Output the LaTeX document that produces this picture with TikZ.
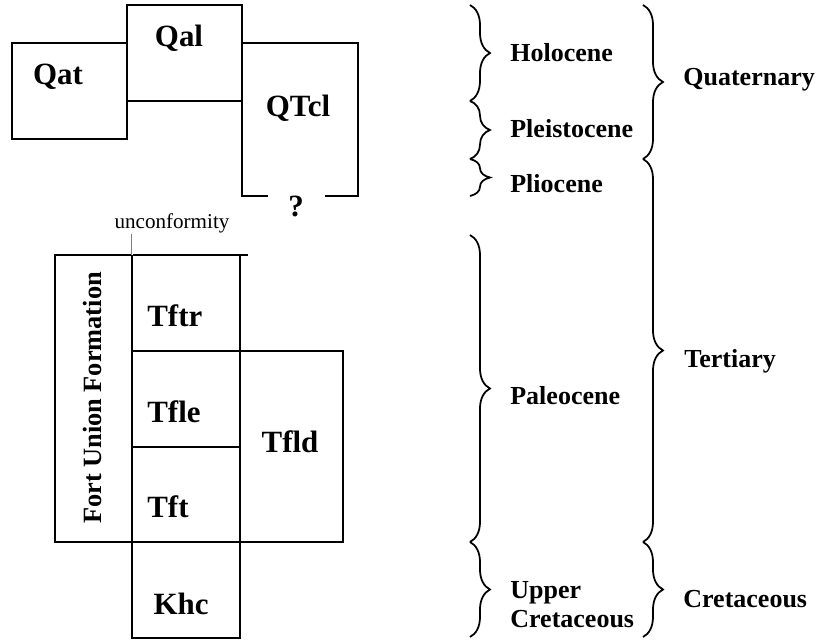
\documentclass[tikz,border=0pt]{standalone}
\usepackage{fontspec}
\setmainfont{Liberation Serif}
\usepackage{tikz}
\usetikzlibrary{decorations.pathreplacing}
\usetikzlibrary{positioning}
\tikzset{unit/.style = {font=\fontsize{17.6}{20}\selectfont\bfseries, inner sep=0pt},
         age/.style = {font=\fontsize{14.8}{17}\selectfont\bfseries, inner sep=0pt,
                       anchor=base west, align=left},
         bracket/.style = {decorate, decoration={brace, amplitude=0.4cm}, line width=1pt},
         box/.style = {line width=1.1pt}}

\begin{document}
\begin{tikzpicture}
    \useasboundingbox (0, 0) rectangle (16.44, 12.84);
    \draw [box] (0.24, 10.06) rectangle (2.54, 11.98);
    \draw [box] (2.54, 10.82) rectangle (4.84, 12.74);
    \draw [box] (6.5, 8.92) -- (7.16, 8.92) -- (7.16, 11.98) -- (4.84, 11.98) -- (4.84, 8.92) -- (5.36, 8.92);
    \node [unit, anchor=base] (qat) at (1.16, 11.14) {Qat};
    \node [unit, anchor=base] (qal) at (3.58, 11.9) {Qal};
    \node [unit, anchor=base] (qtcl) at (5.96, 10.5) {QTcl};
    \node [unit, anchor=base] (query) at (5.92, 8.5) {?};

    \draw [box] (1.1, 7.74) -- (4.96, 7.74);
    \draw [box] (1.1, 2.0) rectangle (2.64, 7.74);
    \draw [box] (2.64, 2.0) rectangle (4.8, 7.74);
    \draw [box] (2.64, 5.82) -- (4.8, 5.82);
    \draw [box] (2.64, 3.9) -- (4.8, 3.9);
    \draw [box] (4.8, 2.0) rectangle (6.86, 5.82);
    \draw [box] (2.64, 0.08) rectangle (4.8, 2.0);
    \node [unit, anchor=base west] (tftr) at (2.94, 6.3) {Tftr};
    \node [unit, anchor=base west] (tfle) at (2.94, 4.38) {Tfle};
    \node [unit, anchor=base west] (tft) at (2.94, 2.48) {Tft};
    \node [unit, anchor=base] (tfld) at (5.8, 3.78) {Tfld};
    \node [unit, anchor=base] (khc) at (3.62, 0.54) {Khc};
    \node [font=\fontsize{15}{18}\selectfont\bfseries, inner sep=0pt, rotate=90, anchor=base]
        (fort) at (2.04, 4.88) {Fort Union Formation};

    \node [font=\fontsize{12}{14}\selectfont, inner sep=0pt, anchor=base] (uncf) at (3.44, 8.26) {unconformity};
    \coordinate (gap) at (2.64, 7.74);
    \draw [double=white, draw=gray, line width=0.5pt, double distance=0.5pt] (uncf.south -| gap) -- (gap);

    \draw [bracket] (9.4, 12.74) -- (9.4, 10.82);
    \draw [bracket] (9.4, 10.82) -- (9.4, 9.66);
    \draw [bracket] (9.4, 9.66) -- (9.4, 8.92);
    \draw [bracket] (9.4, 8.14) -- (9.4, 2.0);
    \draw [bracket] (9.4, 2.0) -- (9.4, 0.1);
    \draw [bracket] (12.86, 12.74) -- (12.86, 9.66);
    \draw [bracket] (12.86, 9.66) -- (12.86, 2.0);
    \draw [bracket] (12.86, 2.0) -- (12.86, 0.1);

    \node [age] (holo) at (10.2, 11.6) {Holocene};
    \node [age] (pleis) at (10.2, 10.08) {Pleistocene};
    \node [age] (plio) at (10.2, 8.98) {Pliocene};
    \node [age] (paleo) at (10.2, 4.74) {Paleocene};
    \node [age] (upcret) at (10.2, 0.28) {Upper\\Cretaceous};
    \node [age] (quat) at (13.66, 11.12) {Quaternary};
    \node [age] (tert) at (13.68, 5.48) {Tertiary};
    \node [age] (cret) at (13.66, 0.68) {Cretaceous};
\end{tikzpicture}
\end{document}
